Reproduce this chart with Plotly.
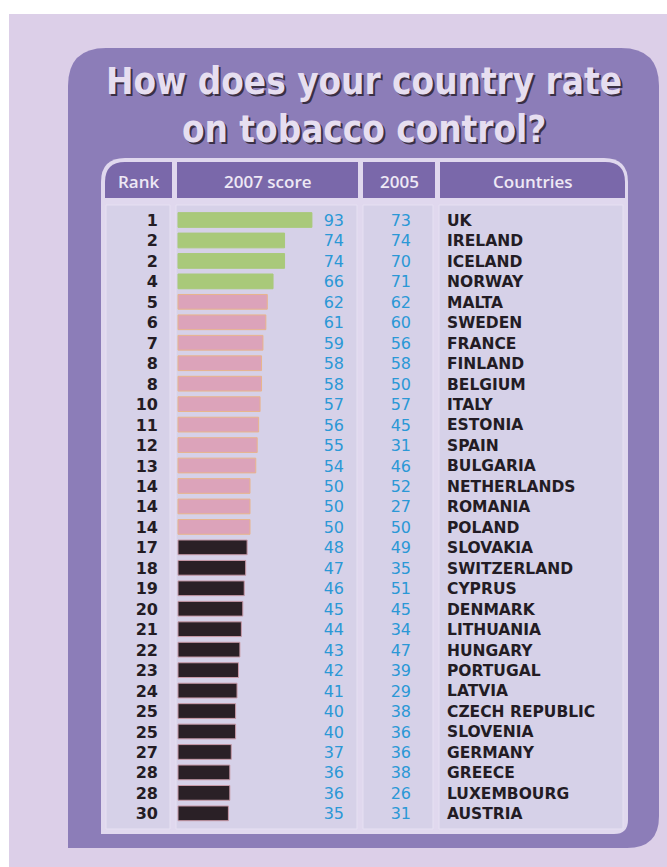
import plotly.graph_objects as go

# ---------------- data ----------------
ranks = [1, 2, 2, 4, 5, 6, 7, 8, 8, 10, 11, 12, 13, 14, 14, 14, 17, 18, 19, 20,
         21, 22, 23, 24, 25, 25, 27, 28, 28, 30]
score_2007 = [93, 74, 74, 66, 62, 61, 59, 58, 58, 57, 56, 55, 54, 50, 50, 50, 48, 47, 46, 45,
              44, 43, 42, 41, 40, 40, 37, 36, 36, 35]
score_2005 = [73, 74, 70, 71, 62, 60, 56, 58, 50, 57, 45, 31, 46, 52, 27, 50, 49, 35, 51, 45,
              34, 47, 39, 29, 38, 36, 36, 38, 26, 31]
countries = ["UK", "IRELAND", "ICELAND", "NORWAY", "MALTA", "SWEDEN", "FRANCE", "FINLAND",
             "BELGIUM", "ITALY", "ESTONIA", "SPAIN", "BULGARIA", "NETHERLANDS", "ROMANIA",
             "POLAND", "SLOVAKIA", "SWITZERLAND", "CYPRUS", "DENMARK", "LITHUANIA", "HUNGARY",
             "PORTUGAL", "LATVIA", "CZECH REPUBLIC", "SLOVENIA", "GERMANY", "GREECE",
             "LUXEMBOURG", "AUSTRIA"]
headers = ["Rank", "2007 score", "2005", "Countries"]
title_lines = ["How does your country rate", "on tobacco control?"]

# ---------------- styling ----------------
W, H = 667, 867
PX_PER_UNIT = 1.44
BAR_X0 = 178
ROW0, ROW_STEP = 220, 20.46
TEXT_DY = 2  # px nudge of row texts
BG = "#dccfe8"
PANEL = "#8c7db8"
INNER = "#e0d8ee"
TAB = "#7a68aa"
CELL = "#d6d1e8"
BLUE = "#2b98d6"
DARK = "#231c24"


def tier_color(v):
    if v >= 65:
        return "#a9c97a", "#a9c97a"
    if v >= 50:
        return "#dca3ba", "#e8b48c"
    return "#2a2026", "#c89aa8"


bar_fill = [tier_color(v)[0] for v in score_2007]
bar_line = [tier_color(v)[1] for v in score_2007]


def rrect(x0, y0, x1, y1, tl=0, tr=0, br=0, bl=0):
    """Rounded rectangle path in pixel coordinates (y down)."""
    p = f"M {x0+tl},{y0} L {x1-tr},{y0} "
    p += f"Q {x1},{y0} {x1},{y0+tr} " if tr else ""
    p += f"L {x1},{y1-br} "
    p += f"Q {x1},{y1} {x1-br},{y1} " if br else ""
    p += f"L {x0+bl},{y1} "
    p += f"Q {x0},{y1} {x0},{y1-bl} " if bl else ""
    p += f"L {x0},{y0+tl} "
    p += f"Q {x0},{y0} {x0+tl},{y0} " if tl else ""
    return p + "Z"


shapes = []


def add_path(path, fill, line_color=None, line_width=0):
    shapes.append(dict(type="path", path=path, xref="x2", yref="y2", layer="below",
                       fillcolor=fill,
                       line=dict(color=line_color or fill, width=line_width)))


# page background
add_path(rrect(9, 14, W, H), BG)
# purple panel
add_path(rrect(68, 48, 659, 848, tl=38, tr=38, br=32, bl=0), PANEL)
# inner light table area
add_path(rrect(101, 158, 628, 834, tl=24, tr=24, br=14, bl=0), INNER)
# header tabs
tabs = [(105, 172), (177, 358), (363, 435), (440, 625)]
for i, (a, b) in enumerate(tabs):
    add_path(rrect(a, 162, b, 198, tl=20 if i == 0 else 0, tr=20 if i == 3 else 0), TAB)
# body cells
cells = [(106, 170), (176, 357), (363, 433), (439, 623)]
for a, b in cells:
    add_path(rrect(a, 205, b, 829), CELL, "#e6e0f2", 1)

fig = go.Figure()

# bars
fig.add_trace(go.Bar(
    x=score_2007, y=countries, orientation="h", width=0.72,
    marker=dict(color=bar_fill, line=dict(color=bar_line, width=1)),
    xaxis="x", yaxis="y", hoverinfo="skip",
))

font_num = "DejaVu Sans, sans-serif"
font_hdr = "Open Sans, DejaVu Sans, sans-serif"

# rank numbers
fig.add_trace(go.Scatter(
    x=[158] * len(ranks), y=countries, mode="text", text=[str(r) for r in ranks],
    textposition="middle left",
    textfont=dict(family=font_num, size=16, color=DARK, weight="bold"),
    xaxis="x2", yaxis="y3", hoverinfo="skip",
))
# 2007 score values
fig.add_trace(go.Scatter(
    x=[344] * len(score_2007), y=countries, mode="text", text=[str(v) for v in score_2007],
    textposition="middle left",
    textfont=dict(family=font_num, size=16, color=BLUE),
    xaxis="x2", yaxis="y3", hoverinfo="skip",
))
# 2005 values
fig.add_trace(go.Scatter(
    x=[411] * len(score_2005), y=countries, mode="text", text=[str(v) for v in score_2005],
    textposition="middle left",
    textfont=dict(family=font_num, size=16, color=BLUE),
    xaxis="x2", yaxis="y3", hoverinfo="skip",
))
# countries
fig.add_trace(go.Scatter(
    x=[447] * len(countries), y=countries, mode="text", text=countries,
    textposition="middle right",
    textfont=dict(family=font_num, size=15.5, color=DARK, weight="bold"),
    xaxis="x2", yaxis="y3", hoverinfo="skip",
))

annotations = []
# header labels
for (a, b), h in zip(tabs, headers):
    annotations.append(dict(x=(a + b) / 2, y=181, xref="x2", yref="y2", text=h,
                            showarrow=False, xanchor="center", yanchor="middle",
                            font=dict(family=font_hdr, size=17, color="#eee8f5", weight=600)))
# title with shadow
title_font = "DejaVu Sans Condensed, DejaVu Sans, sans-serif"
for ty, line in zip([81, 129], title_lines):
    annotations.append(dict(x=364, y=ty, xref="x2", yref="y2", text=line,
                            showarrow=False, xanchor="center", yanchor="middle",
                            font=dict(family=title_font, size=36.5, color="#e6def0",
                                      weight="bold", shadow="2px 2px 0px #3a3044")))

y_top = -ROW0 / ROW_STEP
y_bot = (H - ROW0) / ROW_STEP
d = TEXT_DY / ROW_STEP
fig.update_layout(
    width=W, height=H, margin=dict(l=0, r=0, t=0, b=0),
    paper_bgcolor="white", plot_bgcolor="rgba(0,0,0,0)",
    showlegend=False, barmode="overlay",
    shapes=shapes, annotations=annotations,
    xaxis=dict(range=[-BAR_X0 / PX_PER_UNIT, (W - BAR_X0) / PX_PER_UNIT], domain=[0, 1],
               visible=False, fixedrange=True),
    yaxis=dict(type="category", categoryorder="array", categoryarray=countries,
               range=[y_bot, y_top], domain=[0, 1], visible=False, fixedrange=True),
    xaxis2=dict(range=[0, W], overlaying="x", visible=False, fixedrange=True),
    yaxis2=dict(range=[H, 0], overlaying="y", visible=False, fixedrange=True),
    yaxis3=dict(type="category", categoryorder="array", categoryarray=countries,
                range=[y_bot - d, y_top - d], overlaying="y", visible=False, fixedrange=True),
)

fig.write_html("out.html", config={"displayModeBar": False},
               post_script="document.body.style.margin='0px';")
